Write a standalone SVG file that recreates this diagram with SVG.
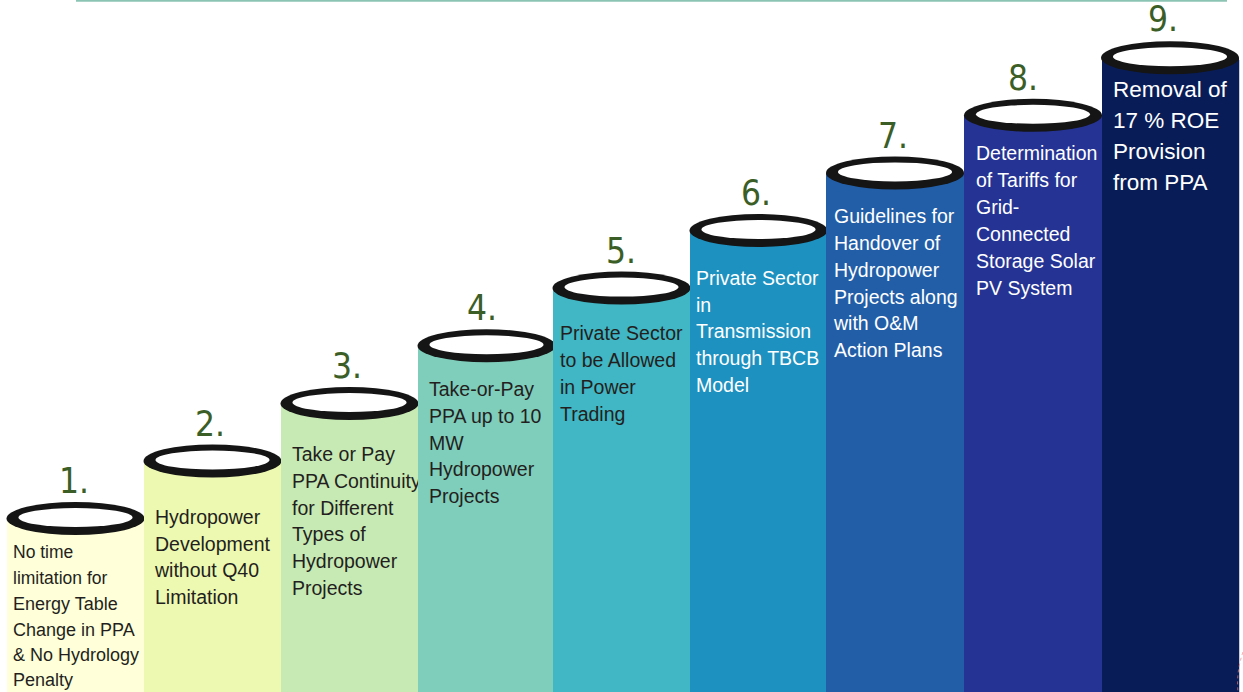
<svg xmlns="http://www.w3.org/2000/svg" width="1243" height="692" viewBox="0 0 1243 692">
<style>
.rim{fill:#151515}
.hole{fill:#ffffff}
.num{font-family:"Liberation Sans Narrow","DejaVu Sans Condensed","Liberation Sans",sans-serif;font-size:35px;fill:#3b5e27;text-anchor:middle}
.t{font-family:"Liberation Sans",Arial,sans-serif;font-size:19.5px}
.dk{fill:#231f20}
.lt{fill:#ffffff}
</style>
<rect width="1243" height="692" fill="#ffffff"/>
<line x1="76" y1="0.8" x2="1227" y2="0.8" stroke="#8cc4b4" stroke-width="1.8"/>

<g id="node1">
<rect x="7" y="518.5" width="137" height="174" fill="#ffffd9"/>
<ellipse class="rim" cx="75.5" cy="518.5" rx="69" ry="16.5"/>
<ellipse class="hole" cx="75.5" cy="517.5" rx="57" ry="9.5"/>
<text class="num" x="74" y="493">1.</text>
<text class="t dk" x="13" style="font-size:18px"><tspan x="13" y="558" style="font-size:17.5px">No time</tspan><tspan x="13" y="584" style="font-size:17.5px">limitation for</tspan><tspan x="13" y="610">Energy Table</tspan><tspan x="13" y="636">Change in PPA</tspan><tspan x="13" y="661">&amp; No Hydrology</tspan><tspan x="13" y="686">Penalty</tspan></text>
</g>

<g id="node2">
<rect x="144" y="461" width="137" height="231" fill="#edf8b1"/>
<ellipse class="rim" cx="212.5" cy="461" rx="69" ry="16.5"/>
<ellipse class="hole" cx="212.5" cy="460" rx="57" ry="9.5"/>
<text class="num" x="210" y="436">2.</text>
<text class="t dk"><tspan x="155" y="524">Hydropower</tspan><tspan x="155" y="551">Development</tspan><tspan x="155" y="577">without Q40</tspan><tspan x="155" y="604">Limitation</tspan></text>
</g>

<g id="node3">
<rect x="281" y="403" width="137" height="289" fill="#c7e9b4"/>
<ellipse class="rim" cx="349.5" cy="403.5" rx="69" ry="16.5"/>
<ellipse class="hole" cx="349.5" cy="402.5" rx="57" ry="9.5"/>
<text class="num" x="347" y="378">3.</text>
<text class="t dk"><tspan x="292" y="461">Take or Pay</tspan><tspan x="292" y="488">PPA Continuity</tspan><tspan x="292" y="515">for Different</tspan><tspan x="292" y="541">Types of</tspan><tspan x="292" y="568">Hydropower</tspan><tspan x="292" y="595">Projects</tspan></text>
</g>

<g id="node4">
<rect x="418" y="345.7" width="137" height="347" fill="#7fcdbb"/>
<ellipse class="rim" cx="486.5" cy="345.7" rx="69" ry="16.5"/>
<ellipse class="hole" cx="486.5" cy="344.7" rx="57" ry="9.5"/>
<text class="num" x="482" y="320">4.</text>
<text class="t dk"><tspan x="429" y="396">Take-or-Pay</tspan><tspan x="429" y="423">PPA up to 10</tspan><tspan x="429" y="450">MW</tspan><tspan x="429" y="476">Hydropower</tspan><tspan x="429" y="503">Projects</tspan></text>
</g>

<g id="node5">
<rect x="553" y="288" width="137" height="404" fill="#41b6c4"/>
<ellipse class="rim" cx="621.5" cy="288.1" rx="69" ry="16.5"/>
<ellipse class="hole" cx="621.5" cy="287.1" rx="57" ry="9.5"/>
<text class="num" x="621" y="263">5.</text>
<text class="t dk"><tspan x="560" y="340">Private Sector</tspan><tspan x="560" y="367">to be Allowed</tspan><tspan x="560" y="394">in Power</tspan><tspan x="560" y="421">Trading</tspan></text>
</g>

<g id="node6">
<rect x="690" y="230.5" width="137" height="462" fill="#1d91c0"/>
<ellipse class="rim" cx="758.5" cy="230.5" rx="69" ry="16.5"/>
<ellipse class="hole" cx="758.5" cy="229.5" rx="57" ry="9.5"/>
<text class="num" x="756" y="205">6.</text>
<text class="t lt"><tspan x="696" y="285">Private Sector</tspan><tspan x="696" y="312">in</tspan><tspan x="696" y="338">Transmission</tspan><tspan x="696" y="365">through TBCB</tspan><tspan x="696" y="392">Model</tspan></text>
</g>

<g id="node7">
<rect x="826" y="172.9" width="138" height="520" fill="#225ea8"/>
<ellipse class="rim" cx="895" cy="172.9" rx="69" ry="16.5"/>
<ellipse class="hole" cx="895" cy="171.9" rx="57" ry="9.5"/>
<text class="num" x="893" y="148">7.</text>
<text class="t lt"><tspan x="834" y="223">Guidelines for</tspan><tspan x="834" y="250">Handover of</tspan><tspan x="834" y="277">Hydropower</tspan><tspan x="834" y="304">Projects along</tspan><tspan x="834" y="330">with O&amp;M</tspan><tspan x="834" y="357">Action Plans</tspan></text>
</g>

<g id="node8">
<rect x="964" y="115.3" width="138" height="577" fill="#253494"/>
<ellipse class="rim" cx="1033" cy="115.3" rx="69" ry="16.5"/>
<ellipse class="hole" cx="1033" cy="114.3" rx="57" ry="9.5"/>
<text class="num" x="1023" y="90">8.</text>
<text class="t lt"><tspan x="976" y="160">Determination</tspan><tspan x="976" y="187">of Tariffs for</tspan><tspan x="976" y="214">Grid-</tspan><tspan x="976" y="241">Connected</tspan><tspan x="976" y="268">Storage Solar</tspan><tspan x="976" y="295">PV System</tspan></text>
</g>

<g id="node9">
<rect x="1102" y="57.7" width="137" height="635" fill="#081d58"/>
<line x1="1239.5" y1="60" x2="1239.5" y2="692" stroke="#c8ccd8" stroke-width="1"/>
<ellipse class="rim" cx="1170" cy="57.7" rx="69" ry="16.5"/>
<ellipse class="hole" cx="1170" cy="56.7" rx="57" ry="9.5"/>
<text class="num" x="1163" y="31">9.</text>
<text class="t lt" style="font-size:22.5px"><tspan x="1113" y="97">Removal of</tspan><tspan x="1113" y="128">17 % ROE</tspan><tspan x="1113" y="159">Provision</tspan><tspan x="1113" y="190">from PPA</tspan></text>
</g>

<g id="connectors">
<path d="M1243,652 Q1236,672 1238,692" fill="none" stroke="#f08080" stroke-width="1" stroke-dasharray="3,3" opacity="0.7"/>
</g>
</svg>
